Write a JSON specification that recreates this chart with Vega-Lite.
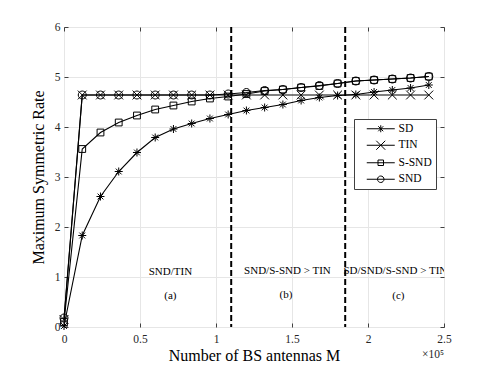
{
  "$schema": "https://vega.github.io/schema/vega-lite/v6.json",
  "width": 380,
  "height": 300,
  "autosize": {"type": "none"},
  "padding": {"left": 64, "top": 27, "right": 47, "bottom": 41},
  "config": {
    "font": "Liberation Serif",
    "view": {"stroke": "#404040", "strokeWidth": 1},
    "axis": {
      "domain": false,
      "labelFont": "Liberation Serif",
      "titleFont": "Liberation Serif",
      "labelFontSize": 11.5,
      "labelColor": "#262626",
      "titleColor": "black",
      "titleFontWeight": "normal",
      "titleFontSize": 16,
      "tickColor": "#404040",
      "tickSize": -4,
      "gridColor": "#e6e6e6",
      "gridWidth": 1,
      "labelFlush": false,
      "labelOverlap": false
    },
    "legend": {"labelFont": "Liberation Serif"},
    "text": {"font": "Liberation Serif"}
  },
  "datasets": {
    "rates": [
      {"M": 0, "series": "SD", "rate": 0.02},
      {"M": 0.12, "series": "SD", "rate": 1.83},
      {"M": 0.24, "series": "SD", "rate": 2.61},
      {"M": 0.36, "series": "SD", "rate": 3.11},
      {"M": 0.48, "series": "SD", "rate": 3.49},
      {"M": 0.6, "series": "SD", "rate": 3.79},
      {"M": 0.72, "series": "SD", "rate": 3.96},
      {"M": 0.84, "series": "SD", "rate": 4.07},
      {"M": 0.96, "series": "SD", "rate": 4.17},
      {"M": 1.08, "series": "SD", "rate": 4.25},
      {"M": 1.2, "series": "SD", "rate": 4.33},
      {"M": 1.32, "series": "SD", "rate": 4.39},
      {"M": 1.44, "series": "SD", "rate": 4.45},
      {"M": 1.56, "series": "SD", "rate": 4.53},
      {"M": 1.68, "series": "SD", "rate": 4.59},
      {"M": 1.8, "series": "SD", "rate": 4.63},
      {"M": 1.92, "series": "SD", "rate": 4.65},
      {"M": 2.04, "series": "SD", "rate": 4.7},
      {"M": 2.16, "series": "SD", "rate": 4.74},
      {"M": 2.28, "series": "SD", "rate": 4.78},
      {"M": 2.4, "series": "SD", "rate": 4.84},
      {"M": 0, "series": "TIN", "rate": 0.15},
      {"M": 0.12, "series": "TIN", "rate": 4.64},
      {"M": 0.24, "series": "TIN", "rate": 4.64},
      {"M": 0.36, "series": "TIN", "rate": 4.64},
      {"M": 0.48, "series": "TIN", "rate": 4.64},
      {"M": 0.6, "series": "TIN", "rate": 4.64},
      {"M": 0.72, "series": "TIN", "rate": 4.64},
      {"M": 0.84, "series": "TIN", "rate": 4.64},
      {"M": 0.96, "series": "TIN", "rate": 4.64},
      {"M": 1.08, "series": "TIN", "rate": 4.64},
      {"M": 1.2, "series": "TIN", "rate": 4.64},
      {"M": 1.32, "series": "TIN", "rate": 4.64},
      {"M": 1.44, "series": "TIN", "rate": 4.64},
      {"M": 1.56, "series": "TIN", "rate": 4.64},
      {"M": 1.68, "series": "TIN", "rate": 4.64},
      {"M": 1.8, "series": "TIN", "rate": 4.64},
      {"M": 1.92, "series": "TIN", "rate": 4.64},
      {"M": 2.04, "series": "TIN", "rate": 4.64},
      {"M": 2.16, "series": "TIN", "rate": 4.64},
      {"M": 2.28, "series": "TIN", "rate": 4.64},
      {"M": 2.4, "series": "TIN", "rate": 4.64},
      {"M": 0, "series": "S-SND", "rate": 0.1},
      {"M": 0.12, "series": "S-SND", "rate": 3.56},
      {"M": 0.24, "series": "S-SND", "rate": 3.89},
      {"M": 0.36, "series": "S-SND", "rate": 4.09},
      {"M": 0.48, "series": "S-SND", "rate": 4.23},
      {"M": 0.6, "series": "S-SND", "rate": 4.35},
      {"M": 0.72, "series": "S-SND", "rate": 4.43},
      {"M": 0.84, "series": "S-SND", "rate": 4.51},
      {"M": 0.96, "series": "S-SND", "rate": 4.57},
      {"M": 1.08, "series": "S-SND", "rate": 4.61},
      {"M": 1.2, "series": "S-SND", "rate": 4.66},
      {"M": 1.32, "series": "S-SND", "rate": 4.72},
      {"M": 1.44, "series": "S-SND", "rate": 4.75},
      {"M": 1.56, "series": "S-SND", "rate": 4.79},
      {"M": 1.68, "series": "S-SND", "rate": 4.82},
      {"M": 1.8, "series": "S-SND", "rate": 4.87},
      {"M": 1.92, "series": "S-SND", "rate": 4.92},
      {"M": 2.04, "series": "S-SND", "rate": 4.94},
      {"M": 2.16, "series": "S-SND", "rate": 4.96},
      {"M": 2.28, "series": "S-SND", "rate": 4.98},
      {"M": 2.4, "series": "S-SND", "rate": 5.01},
      {"M": 0, "series": "SND", "rate": 0.18},
      {"M": 0.12, "series": "SND", "rate": 4.64},
      {"M": 0.24, "series": "SND", "rate": 4.64},
      {"M": 0.36, "series": "SND", "rate": 4.64},
      {"M": 0.48, "series": "SND", "rate": 4.64},
      {"M": 0.6, "series": "SND", "rate": 4.64},
      {"M": 0.72, "series": "SND", "rate": 4.64},
      {"M": 0.84, "series": "SND", "rate": 4.64},
      {"M": 0.96, "series": "SND", "rate": 4.64},
      {"M": 1.08, "series": "SND", "rate": 4.66},
      {"M": 1.2, "series": "SND", "rate": 4.69},
      {"M": 1.32, "series": "SND", "rate": 4.73},
      {"M": 1.44, "series": "SND", "rate": 4.75},
      {"M": 1.56, "series": "SND", "rate": 4.79},
      {"M": 1.68, "series": "SND", "rate": 4.83},
      {"M": 1.8, "series": "SND", "rate": 4.87},
      {"M": 1.92, "series": "SND", "rate": 4.92},
      {"M": 2.04, "series": "SND", "rate": 4.94},
      {"M": 2.16, "series": "SND", "rate": 4.96},
      {"M": 2.28, "series": "SND", "rate": 4.98},
      {"M": 2.4, "series": "SND", "rate": 5.01}
    ],
    "bounds": [{"M": 1.1}, {"M": 1.85}],
    "notes": [
      {"M": 0.7, "rate": 1.11, "note": "SND/TIN"},
      {"M": 0.7, "rate": 0.62, "note": "(a)"},
      {"M": 1.47, "rate": 1.12, "note": "SND/S-SND > TIN"},
      {"M": 1.46, "rate": 0.64, "note": "(b)"},
      {"M": 2.18, "rate": 1.12, "note": "SD/SND/S-SND > TIN"},
      {"M": 2.2, "rate": 0.63, "note": "(c)"}
    ],
    "exponent": [{"M": 2.5, "rate": 0, "note": "×10⁵"}]
  },
  "layer": [
    {
      "data": {"name": "rates"},
      "mark": {"type": "line", "color": "black", "strokeWidth": 1.1},
      "encoding": {
        "x": {
          "field": "M", "type": "quantitative",
          "scale": {"domain": [0, 2.5], "nice": false, "zero": false},
          "axis": {
            "orient": "bottom",
            "values": [0, 0.5, 1, 1.5, 2, 2.5],
            "format": "~g",
            "grid": true,
            "title": "Number of BS antennas M",
            "labelPadding": 10,
            "titlePadding": 3
          }
        },
        "y": {
          "field": "rate", "type": "quantitative",
          "scale": {"domain": [0, 6], "nice": false},
          "axis": {
            "orient": "left",
            "values": [0, 1, 2, 3, 4, 5, 6],
            "format": "d",
            "grid": true,
            "title": "Maximum Symmetric Rate",
            "labelPadding": 8,
            "titlePadding": 8
          }
        },
        "detail": {"field": "series"}
      }
    },
    {
      "data": {"name": "bounds"},
      "mark": {"type": "rule", "color": "black", "strokeWidth": 2, "strokeDash": [6, 3]},
      "encoding": {
        "x": {"field": "M", "type": "quantitative", "axis": null}
      }
    },
    {
      "data": {"name": "rates"},
      "mark": {"type": "point", "filled": false, "color": "black", "strokeWidth": 1, "size": 64, "opacity": 1},
      "encoding": {
        "x": {"field": "M", "type": "quantitative", "axis": null},
        "y": {"field": "rate", "type": "quantitative", "axis": null},
        "shape": {
          "field": "series", "type": "nominal",
          "scale": {
            "domain": ["SD", "TIN", "S-SND", "SND"],
            "range": [
              "M-1,0L1,0M0,-1L0,1M-0.72,-0.72L0.72,0.72M-0.72,0.72L0.72,-0.72",
              "M-1.1,-1.1L1.1,1.1M-1.1,1.1L1.1,-1.1",
              "M-0.85,-0.85L0.85,-0.85L0.85,0.85L-0.85,0.85Z",
              "M1,0A1,1,0,1,1,-1,0A1,1,0,1,1,1,0Z"
            ]
          },
          "legend": null
        }
      }
    },
    {
      "data": {"name": "rates"},
      "mark": {"type": "point", "filled": false, "color": "black", "strokeWidth": 1, "size": 100, "opacity": 0},
      "encoding": {
        "x": {
          "field": "M", "type": "quantitative",
          "axis": {"orient": "top", "values": [0, 0.5, 1, 1.5, 2, 2.5], "labels": false, "grid": false, "title": null}
        },
        "y": {
          "field": "rate", "type": "quantitative",
          "axis": {"orient": "right", "values": [0, 1, 2, 3, 4, 5, 6], "labels": false, "grid": false, "title": null}
        },
        "shape": {
          "field": "series", "type": "nominal",
          "scale": {
            "domain": ["SD", "TIN", "S-SND", "SND"],
            "range": [
              "M-2.8,0L2.8,0M0,-0.7L0,0.7M-0.5,-0.5L0.5,0.5M-0.5,0.5L0.5,-0.5",
              "M-2.8,0L2.8,0M-0.9,-0.9L0.9,0.9M-0.9,0.9L0.9,-0.9",
              "M-2.8,0L2.8,0M-0.55,-0.55L0.55,-0.55L0.55,0.55L-0.55,0.55Z",
              "M-2.8,0L2.8,0M0.65,0A0.65,0.65,0,1,1,-0.65,0A0.65,0.65,0,1,1,0.65,0Z"
            ]
          },
          "legend": {
            "orient": "none",
            "legendX": 290,
            "legendY": 92,
            "title": null,
            "fillColor": "white",
            "strokeColor": "#404040",
            "padding": 4,
            "rowPadding": 3.5,
            "symbolSize": 100,
            "symbolStrokeWidth": 1,
            "symbolStrokeColor": "black",
            "symbolFillColor": "transparent",
            "symbolOpacity": 1,
            "symbolOffset": 17,
            "labelOffset": 12,
            "labelFontSize": 11.5,
            "labelColor": "black",
            "labelExpr": "datum.label + '\u00a0\u00a0\u00a0'"
          }
        }
      }
    },
    {
      "data": {"name": "notes"},
      "mark": {"type": "text", "fontSize": 11, "color": "black", "align": "center", "baseline": "middle", "clip": true},
      "encoding": {
        "x": {"field": "M", "type": "quantitative", "axis": null},
        "y": {"field": "rate", "type": "quantitative", "axis": null},
        "text": {"field": "note"}
      }
    },
    {
      "data": {"name": "exponent"},
      "mark": {"type": "text", "fontSize": 11.5, "color": "#262626", "align": "right", "baseline": "middle", "dy": 28},
      "encoding": {
        "x": {"field": "M", "type": "quantitative", "axis": null},
        "y": {"field": "rate", "type": "quantitative", "axis": null},
        "text": {"field": "note"}
      }
    }
  ],
  "resolve": {
    "scale": {"shape": "independent"},
    "legend": {"shape": "independent"},
    "axis": {"x": "independent", "y": "independent"}
  }
}
